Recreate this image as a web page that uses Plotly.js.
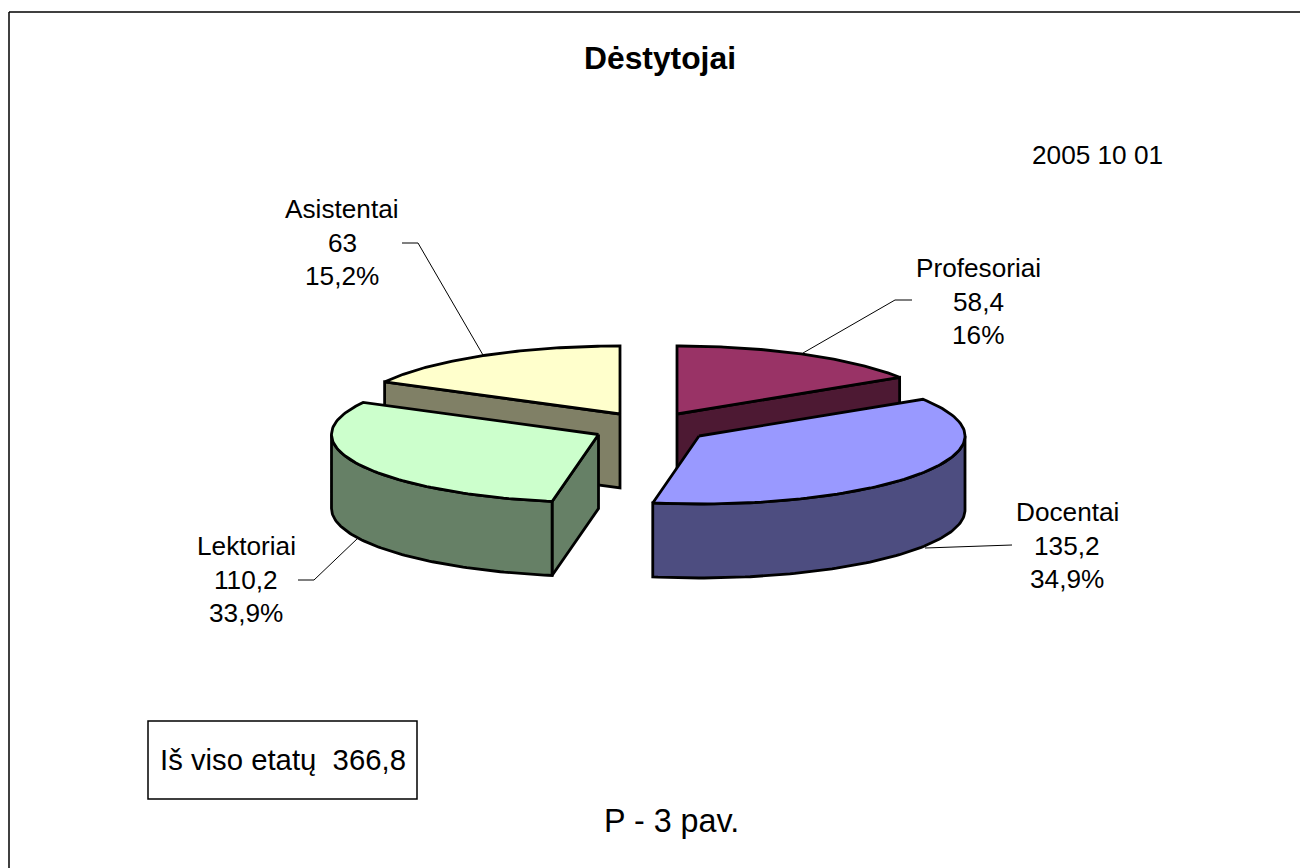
<!DOCTYPE html>
<html>
<head>
<meta charset="utf-8">
<script src="https://cdn.plot.ly/plotly-3.0.1.min.js"></script>
<style>html,body{margin:0;padding:0;background:#fff}#chart{width:1300px;height:868px}</style>
</head>
<body>
<div id="chart"></div>
<script>
// Data
var categories = ["Profesoriai", "Docentai", "Lektoriai", "Asistentai"];
var etatai = [58.4, 135.2, 110.2, 63];
var printedPercent = ["16%", "34,9%", "33,9%", "15,2%"];
var chartTitle = "Dėstytojai";
var dateNote = "2005 10 01";
var totalNote = "Iš viso etatų  366,8";
var figureNote = "P - 3 pav.";

// Styling / projection
var topColors = ["#993366", "#9999ff", "#ccffcc", "#ffffcc"];
var sideColors = ["#4d1933", "#4d4d80", "#668066", "#808066"];
var apexX = [677, 699, 598.5, 620];
var apexY = [414, 436, 434.5, 414];
var radiusX = [264.5, 266, 267, 267];
var radiusY = 68, depth = 74;
var drawOrder = [0, 3, 1, 2];
var labelX = [978, 1067, 246, 342];
var labelY = [268, 512, 546, 209];
var lineGap = 33.5;
var leaderX = [[803, 895, 912], [925, 1012], [358, 314, 298], [483, 418, 402]];
var leaderY = [[353, 300, 300], [548, 545], [538, 580, 580], [355, 243, 243]];

var total = etatai.reduce(function (a, b) { return a + b; }, 0);
var startDeg = [], endDeg = [], running = 0;
etatai.forEach(function (v) {
  startDeg.push(running);
  running += v / total * 360;
  endDeg.push(running);
});

function rim(i, deg, drop) {
  var t = deg * Math.PI / 180;
  return [apexX[i] + radiusX[i] * Math.sin(t), apexY[i] - radiusY * Math.cos(t) + (drop || 0)];
}
function arc(i, a, b, drop) {
  var pts = [], n = 90;
  for (var k = 0; k <= n; k++) pts.push(rim(i, a + (b - a) * k / n, drop));
  return pts;
}
function poly(pts, color) {
  var xs = pts.map(function (p) { return p[0]; });
  var ys = pts.map(function (p) { return p[1]; });
  xs.push(xs[0]); ys.push(ys[0]);
  return {
    type: "scatter", mode: "lines", x: xs, y: ys, fill: "toself", fillcolor: color,
    line: { color: "#000", width: 2.8, shape: "linear" }, hoverinfo: "skip", showlegend: false
  };
}

var traces = [];
// leader lines under the slices
leaderX.forEach(function (lx, i) {
  traces.push({
    type: "scatter", mode: "lines", x: lx, y: leaderY[i],
    line: { color: "#000", width: 1 }, hoverinfo: "skip", showlegend: false
  });
});

drawOrder.forEach(function (i) {
  var a = startDeg[i], b = endDeg[i];
  var apex = [apexX[i], apexY[i]];
  var apexLow = [apexX[i], apexY[i] + depth];
  // radial side face seen from the front
  var faceDeg = (i === 0) ? b : (i === 3) ? a : (i === 2) ? a : null;
  if (faceDeg !== null) {
    traces.push(poly([apex, rim(i, faceDeg), rim(i, faceDeg, depth), apexLow], sideColors[i]));
  }
  // outer wall: only the front half of the rim
  var wa = Math.max(a, 90), wb = Math.min(b, 270);
  if (wb > wa) {
    traces.push(poly(arc(i, wa, wb, 0).concat(arc(i, wa, wb, depth).reverse()), sideColors[i]));
  }
  // top surface
  traces.push(poly([apex].concat(arc(i, a, b, 0)), topColors[i]));
});

function note(x, y, text, size, bold) {
  return {
    xref: "x", yref: "y", x: x, y: y, text: bold ? "<b>" + text + "</b>" : text,
    showarrow: false, xanchor: "center", yanchor: "middle",
    font: { family: "Liberation Sans, Arial, sans-serif", size: size, color: "#000" }
  };
}
var annotations = [
  note(660, 58, chartTitle, 31.8, true),
  note(1097, 155, dateNote, 26.2),
  note(282.5, 759, totalNote, 29.3),
  note(671, 821, figureNote, 32.3)
];
categories.forEach(function (c, i) {
  annotations.push(note(labelX[i], labelY[i], c, 26.2));
  annotations.push(note(labelX[i], labelY[i] + lineGap, String(etatai[i]).replace(".", ","), 26.2));
  annotations.push(note(labelX[i], labelY[i] + 2 * lineGap, printedPercent[i], 26.2));
});

var layout = {
  width: 1300, height: 868,
  margin: { l: 0, r: 0, t: 0, b: 0 },
  paper_bgcolor: "#fff", plot_bgcolor: "#fff",
  xaxis: { range: [0, 1300], visible: false, fixedrange: true },
  yaxis: { range: [868, 0], visible: false, fixedrange: true },
  annotations: annotations,
  shapes: [
    { type: "line", xref: "x", yref: "y", x0: 9, x1: 1300, y0: 12, y1: 12, line: { color: "#000", width: 1.5 } },
    { type: "line", xref: "x", yref: "y", x0: 9, x1: 9, y0: 12, y1: 868, line: { color: "#000", width: 1.5 } },
    { type: "rect", xref: "x", yref: "y", x0: 148, x1: 417, y0: 721, y1: 799, line: { color: "#000", width: 1.5 }, fillcolor: "#fff" }
  ],
  showlegend: false
};
Plotly.newPlot("chart", traces, layout, { displayModeBar: false, staticPlot: true });
</script>
</body>
</html>
